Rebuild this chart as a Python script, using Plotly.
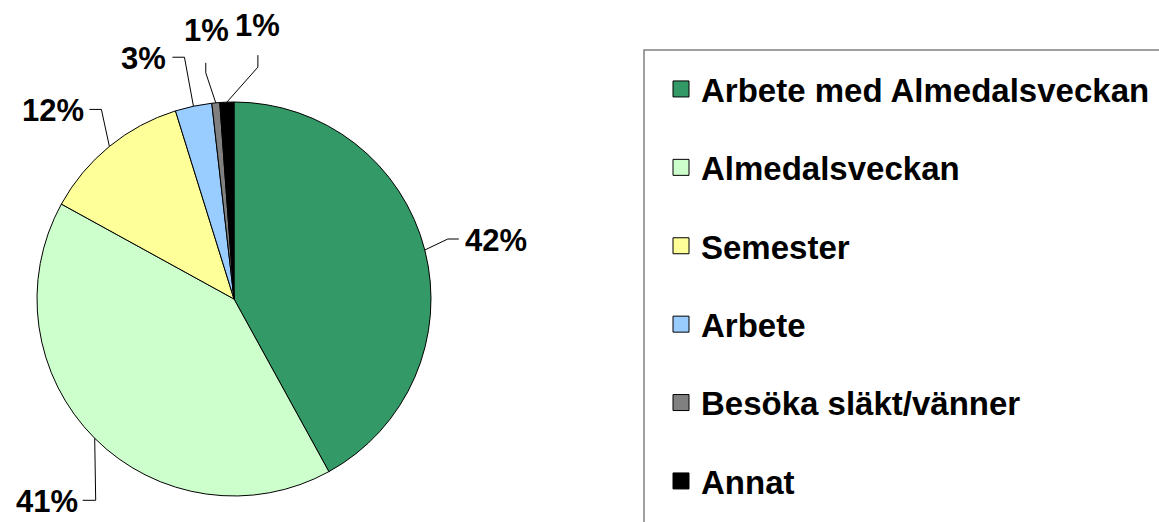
import math
import plotly.graph_objects as go

# ---- data ----
categories = ["Arbete med Almedalsveckan", "Almedalsveckan", "Semester",
              "Arbete", "Besöka släkt/vänner", "Annat"]
values = [42.0, 41.0, 12.2, 3.0, 0.65, 1.15]
colors = ["#339966", "#CCFFCC", "#FFFF99", "#99CCFF", "#808080", "#000000"]

# ---- layout constants (pixels) ----
W, H = 1159, 522
CX, CY, R = 234, 299, 197
FONT = "Liberation Sans, Arial, sans-serif"
LABEL_SIZE = 31
LEGEND_SIZE = 33

# leader-line styling per slice: increments from the slice edge, label offset, anchor
leaders = [
    dict(path=[(23, -11), (11, 0)], off=(4, 1), xanchor="left", yanchor="middle"),
    dict(path=[(1, 62), (-13, 0)], off=(-3, 1), xanchor="right", yanchor="middle"),
    dict(path=[(-8, -37), (-12, 0)], off=(-3, 1), xanchor="right", yanchor="middle"),
    dict(path=[(-9, -49), (-12, 0)], off=(-4, 1), xanchor="right", yanchor="middle"),
    dict(path=[(-10, -30), (0, -10)], off=(1, -32), xanchor="center", yanchor="middle"),
    dict(path=[(31, -35), (0, -12)], off=(0, -30), xanchor="center", yanchor="middle"),
]


def px2paper(x, y):
    return x / W, 1 - y / H


fig = go.Figure()

x0, y0 = px2paper(CX - R, CY + R)
x1, y1 = px2paper(CX + R, CY - R)
fig.add_trace(go.Pie(
    labels=categories, values=values, sort=False, direction="clockwise",
    rotation=0, textinfo="none", hoverinfo="label+percent",
    marker=dict(colors=colors, line=dict(color="#000000", width=1)),
    domain=dict(x=[x0, x1], y=[y0, y1]), showlegend=False,
))

# legend entries
for i, (cat, col) in enumerate(zip(categories, colors)):
    fig.add_trace(go.Scatter(
        x=[None], y=[None], mode="markers", name=cat, legendgroup=f"g{i}",
        marker=dict(symbol="square", size=16, color=col,
                    line=dict(color="#000000", width=1)),
        showlegend=True, hoverinfo="skip",
    ))

# labels + leader lines computed from slice angles
total = sum(values)
cum = 0.0
shapes = []
annotations = []
for v, ld in zip(values, leaders):
    mid = (cum + v / 2) / total * 2 * math.pi
    cum += v
    ex = CX + R * math.sin(mid)
    ey = CY - R * math.cos(mid)
    pts = [(ex, ey)]
    for dx, dy in ld["path"]:
        pts.append((pts[-1][0] + dx, pts[-1][1] + dy))
    path = "M " + " L ".join(
        f"{px2paper(px, py)[0]:.5f},{px2paper(px, py)[1]:.5f}" for px, py in pts)
    shapes.append(dict(type="path", xref="paper", yref="paper", path=path,
                       line=dict(color="#000000", width=1)))
    lx, ly = px2paper(pts[-1][0] + ld["off"][0], pts[-1][1] + ld["off"][1])
    annotations.append(dict(
        x=lx, y=ly, xref="paper", yref="paper", showarrow=False,
        text=f"{round(v / total * 100):.0f}%", xanchor=ld["xanchor"],
        yanchor=ld["yanchor"],
        font=dict(family=FONT, size=LABEL_SIZE, color="#000000", weight="bold"),
    ))

# legend frame
lx0, ly0 = px2paper(644, 50)
lx1, ly1 = px2paper(1175, 540)
shapes.append(dict(type="rect", xref="paper", yref="paper",
                   x0=lx0, y0=ly1, x1=lx1, y1=ly0,
                   line=dict(color="#808080", width=1.5), fillcolor="rgba(0,0,0,0)"))

legx, legy = px2paper(661, 61)
fig.update_layout(
    width=W, height=H,
    margin=dict(l=0, r=0, t=0, b=0, autoexpand=False),
    paper_bgcolor="white", plot_bgcolor="white",
    xaxis=dict(visible=False), yaxis=dict(visible=False),
    shapes=shapes, annotations=annotations,
    legend=dict(x=legx, y=legy, xanchor="left", yanchor="top",
                font=dict(family=FONT, size=LEGEND_SIZE, color="#000000", weight="bold"),
                tracegroupgap=32.5, bgcolor="rgba(0,0,0,0)", borderwidth=0,
                itemsizing="trace"),
    font=dict(family=FONT),
)

fig.write_html("out.html", config={"displayModeBar": False},
               post_script="document.body.style.margin='0';document.body.style.padding='0';")
